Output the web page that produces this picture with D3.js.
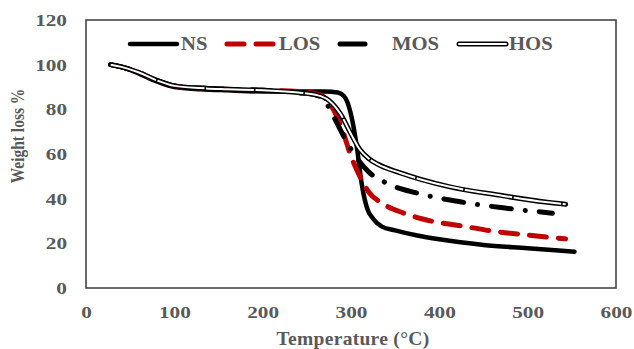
<!DOCTYPE html>
<html><head><meta charset="utf-8">
<script src="https://cdn.jsdelivr.net/npm/d3@7"></script>
<style>body{margin:0;background:#fff}svg{display:block}</style>
</head><body>
<svg id="c" width="634" height="349"></svg>
<script>
const xTicks = [0, 100, 200, 300, 400, 500, 600];
const yTicks = [0, 20, 40, 60, 80, 100, 120];

const NS_T = [28, 40, 60, 80, 100, 130, 160, 200, 240, 270, 285, 292, 297, 302, 307, 312, 318, 325, 335, 350, 375, 400, 450, 500, 553];
const NS_W = [100, 99, 96, 92.5, 90, 89, 88.5, 88, 88, 88, 87.5, 86, 82, 74, 62, 47, 36, 31, 27.5, 25.8, 23.5, 21.8, 19.3, 17.8, 16.2];

const LOS_T = [28, 40, 60, 80, 100, 130, 160, 200, 240, 265, 280, 290, 300, 310, 320, 335, 360, 380, 430, 460, 500, 543];
const LOS_W = [100, 99, 96.5, 93, 90.5, 89.5, 89, 88.5, 88, 86.5, 80, 71, 59, 50, 43, 38, 33.5, 31, 27.5, 25.5, 23.7, 22];

const MOS_T = [28, 40, 60, 80, 100, 130, 160, 200, 240, 260, 270, 280, 293, 305, 320, 340, 380, 425, 470, 528];
const MOS_W = [100, 99, 96.5, 93, 90.5, 89.5, 89, 88.5, 87.5, 86.5, 84, 77, 67, 59, 52, 47, 42, 38.5, 36, 33.5];

const HOS_T = [28, 40, 60, 80, 100, 130, 160, 200, 240, 260, 275, 288, 300, 310, 320, 330, 356, 380, 412, 467, 520, 543];
const HOS_W = [100, 99, 96.5, 93, 90.5, 89.5, 89, 88.5, 87.5, 86.5, 84, 78, 69, 62, 58, 55.5, 51.5, 48.5, 45.3, 41.6, 38.5, 37.5];

const seriesNames = ["NS", "LOS", "MOS", "HOS"];

const svg = d3.select("#c");
const L = 86, R = 616, T = 20, B = 288;
const x = d3.scaleLinear().domain([0, 600]).range([L, R]);
const y = d3.scaleLinear().domain([0, 120]).range([B, T]);
const txt = "#595959";
const font = "'Liberation Serif','Times New Roman',serif";
const sx = 1.25;

// tick labels
const xa = svg.append("g").attr("transform", `translate(0,${B})`)
  .call(d3.axisBottom(x).tickValues(xTicks).tickSize(0).tickPadding(18));
xa.select(".domain").remove();
xa.selectAll("text").attr("fill", txt).style("font", `bold 17px ${font}`)
  .attr("transform", `scale(${sx},1)`);
const ya = svg.append("g").attr("transform", `translate(${L},0)`)
  .call(d3.axisLeft(y).tickValues(yTicks).tickSize(0));
ya.select(".domain").remove();
ya.selectAll("text").attr("fill", txt).style("font", `bold 17px ${font}`)
  .attr("x", -19 / sx).attr("transform", `scale(${sx},1)`);

// plot frame
svg.append("rect").attr("x", L).attr("y", T).attr("width", R - L).attr("height", B - T)
  .attr("fill", "none").attr("stroke", "#3a3a3a").attr("stroke-width", 1.5);

const mk = (ts, ws) => ts.map((t, i) => [t, ws[i]]);
const line = d3.line().x(d => x(d[0])).y(d => y(d[1])).curve(d3.curveMonotoneX);
const g = svg.append("g").attr("fill", "none").attr("stroke-linecap", "round").attr("stroke-linejoin", "round");

g.append("path").attr("d", line(mk(NS_T, NS_W))).attr("stroke", "#000").attr("stroke-width", 4.5);
g.append("path").attr("d", line(mk(LOS_T, LOS_W))).attr("stroke", "#c00000").attr("stroke-width", 5)
  .attr("stroke-dasharray", "17 12");
g.append("path").attr("d", line(mk(MOS_T, MOS_W))).attr("stroke", "#000").attr("stroke-width", 5)
  .attr("stroke-dasharray", "20 14 0.1 14");
g.append("path").attr("d", line(mk(HOS_T, HOS_W))).attr("stroke", "#000").attr("stroke-width", 5);
g.append("path").attr("d", line(mk(HOS_T, HOS_W))).attr("stroke", "#fff").attr("stroke-width", 2)
  .attr("stroke-linecap", "butt").attr("stroke-dasharray", "48 1.5");

// legend
const lg = svg.append("g").attr("fill", "none").attr("stroke-linecap", "round");
const ly = 44;
lg.append("line").attr("x1", 130).attr("x2", 177).attr("y1", ly).attr("y2", ly).attr("stroke", "#000").attr("stroke-width", 4.5);
lg.append("line").attr("x1", 227).attr("x2", 275).attr("y1", ly).attr("y2", ly).attr("stroke", "#c00000").attr("stroke-width", 5).attr("stroke-dasharray", "17 12");
lg.append("line").attr("x1", 340).attr("x2", 365).attr("y1", ly).attr("y2", ly).attr("stroke", "#000").attr("stroke-width", 5);
lg.append("line").attr("x1", 459).attr("x2", 506).attr("y1", ly).attr("y2", ly).attr("stroke", "#000").attr("stroke-width", 5);
lg.append("line").attr("x1", 459).attr("x2", 506).attr("y1", ly).attr("y2", ly).attr("stroke", "#fff").attr("stroke-width", 2);
const lx = [181, 279, 392, 509];
svg.selectAll(".lt").data(seriesNames).enter().append("text")
  .attr("transform", (d, i) => `translate(${lx[i]},50) scale(1.15,1)`).text(d => d)
  .attr("fill", txt).style("font", `bold 18px ${font}`);

// axis titles
svg.append("text").attr("x", (L + R) / 2 + 2).attr("y", 345).attr("text-anchor", "middle")
  .attr("fill", txt).style("font", `bold 19.5px ${font}`).style("letter-spacing", "0.3px")
  .text("Temperature (°C)");
svg.append("text").attr("transform", "translate(24,136) rotate(-90) scale(1,1.25)").attr("text-anchor", "middle")
  .attr("fill", txt).style("font", `bold 15.5px ${font}`)
  .text("Weight loss %");
</script>
</body></html>
